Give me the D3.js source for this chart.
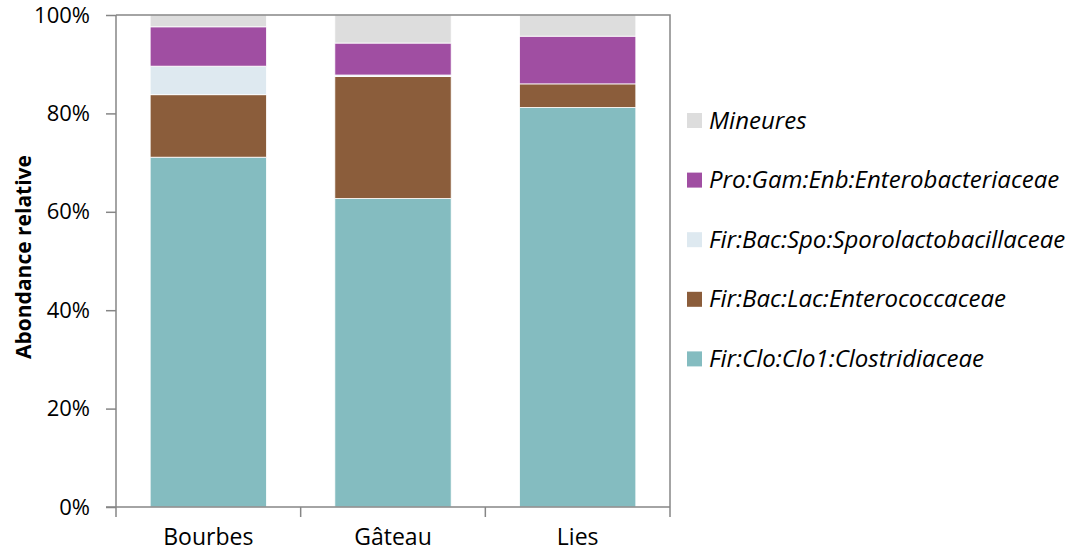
<!DOCTYPE html>
<html><head><meta charset="utf-8">
<script src="https://cdn.jsdelivr.net/npm/d3@7"></script>
<style>body{margin:0;background:#fff}svg{display:block}</style>
</head><body>
<svg id="c" width="1076" height="553"></svg>
<script>
const categories = ["Bourbes", "Gâteau", "Lies"];
const seriesNames = ["Fir:Clo:Clo1:Clostridiaceae", "Fir:Bac:Lac:Enterococcaceae", "Fir:Bac:Spo:Sporolactobacillaceae", "Pro:Gam:Enb:Enterobacteriaceae", "Mineures"];
const clostridiaceae = [71.1, 62.7, 81.2];
const enterococcaceae = [12.7, 24.8, 4.8];
const sporolactobacillaceae = [5.8, 0.3, 0.0];
const enterobacteriaceae = [8.0, 6.5, 9.7];
const mineures = [2.4, 5.7, 4.3];
const colors = ["#84bcc0", "#8b5d3b", "#dee9f0", "#a04ea2", "#dddddd"];
const yTicks = [0, 20, 40, 60, 80, 100];

const seriesValues = [clostridiaceae, enterococcaceae, sporolactobacillaceae, enterobacteriaceae, mineures];
const rows = categories.map((c, i) => {
  const r = {cat: c};
  seriesNames.forEach((s, j) => r[s] = seriesValues[j][i]);
  return r;
});
const stacked = d3.stack().keys(seriesNames)(rows);

const svg = d3.select("#c");
const x = d3.scaleBand().domain(categories).range([116, 670]).paddingInner(0.37).paddingOuter(0.185);
const y = d3.scaleLinear().domain([0, 100]).range([507, 15]);
const font = "'Open Sans', sans-serif";

// bars
svg.append("g").selectAll("g").data(stacked).join("g")
  .attr("fill", (d, i) => colors[i])
  .selectAll("rect").data(d => d).join("rect")
  .attr("x", d => x(d.data.cat))
  .attr("width", x.bandwidth())
  .attr("y", d => y(d[1]))
  .attr("height", d => Math.max(0, y(d[0]) - y(d[1])))
  .attr("stroke", "#ffffff").attr("stroke-width", 0.8);

// plot border top/right
svg.append("path").attr("d", `M116,15H670V507`).attr("fill", "none").attr("stroke", "#868686").attr("stroke-width", 1.5);

// y axis
const ya = svg.append("g").attr("transform", "translate(116,0)")
  .call(d3.axisLeft(y).tickValues(yTicks).tickFormat(d => d + "%").tickSize(10).tickPadding(16));
ya.select(".domain").attr("stroke", "#868686").attr("stroke-width", 1.5).attr("d", "M0,15V507");
ya.selectAll(".tick line").attr("stroke", "#868686").attr("stroke-width", 1.5);
ya.selectAll("text").attr("font-family", font).attr("font-size", 22).attr("fill", "#000");

// x axis
const xa = svg.append("g").attr("transform", "translate(0,507)")
  .call(d3.axisBottom(x).tickSize(0).tickPadding(22));
xa.select(".domain").attr("stroke", "#868686").attr("stroke-width", 1.5).attr("d", "M106,0H670");
xa.selectAll("text").attr("font-family", font).attr("font-size", 23).attr("fill", "#000");
const step = x.step();
const bounds = d3.range(categories.length + 1).map(i => 116 + i * step);
xa.selectAll("line.sep").data(bounds).join("line").attr("class", "sep")
  .attr("x1", d => d).attr("x2", d => d).attr("y1", 0).attr("y2", 10)
  .attr("stroke", "#868686").attr("stroke-width", 1.5);

// y title
svg.append("text").attr("transform", "translate(31,257) rotate(-90)")
  .attr("text-anchor", "middle").attr("font-family", font).attr("font-weight", "bold")
  .attr("font-size", 21).text("Abondance relative");

// legend
const legendOrder = [4, 3, 2, 1, 0];
const lg = svg.append("g").selectAll("g").data(legendOrder).join("g")
  .attr("transform", (d, i) => `translate(687,${120.5 + i * 59.6})`);
lg.append("rect").attr("x", 0).attr("y", -7.5).attr("width", 15).attr("height", 15).attr("fill", d => colors[d]);
lg.append("text").attr("x", 22).attr("y", 8).attr("font-family", font).attr("font-style", "italic")
  .attr("font-size", 24).text(d => seriesNames[d]);
</script>
</body></html>
